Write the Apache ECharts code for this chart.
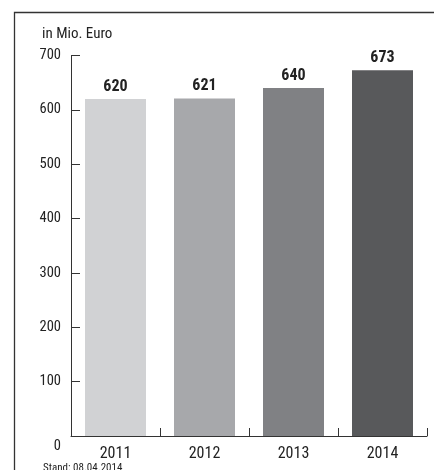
<!DOCTYPE html>
<html><head><meta charset="utf-8">
<script src="https://cdn.jsdelivr.net/npm/echarts@6/dist/echarts.min.js"></script>
<style>html,body{margin:0;padding:0;background:#fff}#c{width:434px;height:470px}</style>
</head><body><div id="c"></div>
<script>
var categories = ['2011', '2012', '2013', '2014'];
var values = [620, 621, 640, 673];
var barColors = ['#d1d2d4', '#a7a8ab', '#808184', '#58595b'];
var unitLabel = 'in Mio. Euro';
var footnote = 'Stand: 08.04.2014';

var FONT = '"Liberation Sans Narrow", "Arial Narrow", "Roboto Condensed", sans-serif';
var chart = echarts.init(document.getElementById('c'), null, {renderer: 'canvas'});
chart.setOption({
  animation: false,
  backgroundColor: '#fff',
  grid: {left: 71, right: 7, top: 55.5, bottom: 34, containLabel: false},
  xAxis: {
    type: 'category', data: categories,
    axisLine: {lineStyle: {color: '#333', width: 1}},
    axisTick: {show: true, inside: true, length: 8, alignWithLabel: false, lineStyle: {color: '#333'}},
    axisLabel: {color: '#222', fontFamily: FONT, fontSize: 16, margin: 10}
  },
  yAxis: {
    type: 'value', min: 0, max: 700, interval: 100,
    axisLine: {show: true, lineStyle: {color: '#333', width: 1}},
    axisTick: {show: true, inside: true, length: 9, lineStyle: {color: '#333'}},
    splitLine: {show: false},
    axisLabel: {
      color: '#222', fontFamily: FONT, fontSize: 14.5, margin: 10,
      formatter: function (v) { return v === 0 ? '{z|0}' : String(v); },
      rich: {z: {fontFamily: FONT, fontSize: 14.5, color: '#222', padding: [20, 0, 0, 0]}}
    }
  },
  series: [{
    type: 'bar',
    data: values.map(function (v, i) { return {value: v, itemStyle: {color: barColors[i]}}; }),
    barWidth: 61,
    label: {show: true, position: 'top', distance: 4, fontFamily: FONT, fontWeight: 'bold', fontSize: 16, color: '#222'}
  }],
  graphic: [
    {type: 'polyline', shape: {points: [[14.5, 480], [14.5, 12.5], [440, 12.5]]}, style: {stroke: '#333', lineWidth: 1.3, fill: null}, silent: true},
    {type: 'text', left: 42, top: 27, style: {text: unitLabel, fontFamily: FONT, fontSize: 15, fill: '#222'}},
    {type: 'text', left: 43, top: 462.5, style: {text: footnote, fontFamily: FONT, fontSize: 11, fill: '#222'}}
  ]
});
</script></body></html>
